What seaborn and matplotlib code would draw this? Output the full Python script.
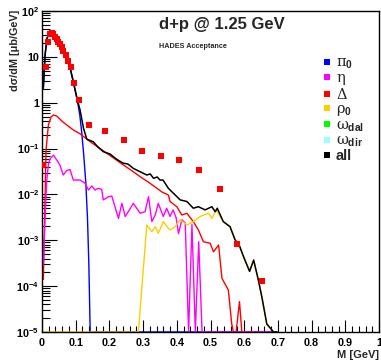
import numpy as np
import pandas as pd
import matplotlib
matplotlib.use("Agg")
import matplotlib.pyplot as plt
import seaborn as sns
from matplotlib.lines import Line2D
from matplotlib.ticker import FixedLocator, MultipleLocator, LogLocator, FuncFormatter, NullFormatter

# ---------------- data ----------------
FLOOR = 1e-5  # zero bins are drawn on the bottom of the axis

# measured points (red squares)
data_m = [0.004, 0.011, 0.017, 0.024, 0.029, 0.034, 0.039, 0.044, 0.048, 0.053, 0.058,
          0.063, 0.070, 0.076, 0.085, 0.095, 0.110, 0.140, 0.188, 0.243, 0.298, 0.353,
          0.408, 0.466, 0.527, 0.578, 0.652]
data_y = [0.044, 6.1, 21.4, 31.5, 33.0, 31.0, 27.5, 24.0, 21.4, 19.0, 16.1,
          13.6, 11.0, 8.3, 5.9, 2.7, 1.12, 0.33, 0.24, 0.15, 0.089, 0.069,
          0.056, 0.034, 0.013, 0.00083, 0.00013]

# all
all_m = [0.004, 0.009, 0.015, 0.022, 0.030, 0.039, 0.048, 0.056, 0.065, 0.074, 0.083,
         0.092, 0.105, 0.113, 0.123, 0.133, 0.152, 0.166, 0.182, 0.202, 0.222, 0.241,
         0.255, 0.271, 0.291, 0.311, 0.321, 0.331, 0.342, 0.350, 0.359, 0.375, 0.390,
         0.410, 0.430, 0.449, 0.464, 0.484, 0.504, 0.514, 0.520, 0.538, 0.558, 0.573,
         0.585, 0.598, 0.616, 0.628, 0.642, 0.653, 0.667, 0.687, 0.697]
all_y = [2.2, 11.0, 26.0, 33.0, 32.0, 27.0, 21.0, 16.4, 12.1, 8.6, 6.0,
         3.1, 1.15, 0.69, 0.28, 0.16, 0.141, 0.108, 0.0855, 0.076, 0.058, 0.048,
         0.046, 0.037, 0.0313, 0.0265, 0.028, 0.0225, 0.024, 0.0206, 0.0206, 0.0136, 0.0106,
         0.0076, 0.0070, 0.0050, 0.0054, 0.0046, 0.0054, 0.0042, 0.0050, 0.00255, 0.00198, 0.00102,
         0.00079, 0.00044, 0.00021, 0.00037, 0.000136, 5.5e-5, 1.5e-5, FLOOR, FLOOR]

# pi0
pi0_m = [0.004, 0.009, 0.015, 0.022, 0.030, 0.039, 0.048, 0.056, 0.065, 0.074, 0.083,
         0.092, 0.105, 0.112, 0.118, 0.124, 0.130, 0.135, 0.139, 0.143, 0.700]
pi0_y = [2.0, 10.5, 25.5, 32.5, 31.5, 26.5, 20.5, 16.0, 11.8, 8.4, 5.9,
         3.0, 1.1, 0.55, 0.22, 0.07, 0.018, 0.003, 0.0003, FLOOR, FLOOR]

# Delta
delta_m = [0.004, 0.009, 0.012, 0.019, 0.027, 0.034, 0.044, 0.062, 0.093, 0.113, 0.143,
           0.166, 0.192, 0.217, 0.241, 0.264, 0.291, 0.315, 0.341, 0.356, 0.375, 0.380,
           0.400, 0.415, 0.430, 0.449, 0.464, 0.479, 0.499, 0.509, 0.524, 0.534, 0.553,
           0.563, 0.568, 0.576, 0.586, 0.593, 0.650]
delta_y = [1.4e-4, 0.0076, 0.093, 0.33, 0.49, 0.54, 0.51, 0.38, 0.254, 0.21, 0.141,
           0.108, 0.079, 0.059, 0.044, 0.034, 0.0244, 0.0187, 0.0136, 0.0113, 0.0097, 0.0070,
           0.0054, 0.00356, 0.00388, 0.00255, 0.00168, 0.00093, 0.00086, 0.00056, 0.00079, 0.000148, 8.2e-5,
           1.5e-5, FLOOR, FLOOR, 4.6e-5, FLOOR, FLOOR]

# eta
eta_m = [0.004, 0.009, 0.014, 0.019, 0.024, 0.034, 0.044, 0.053, 0.063, 0.073, 0.083,
         0.093, 0.113, 0.128, 0.138, 0.148, 0.157, 0.167, 0.177, 0.182, 0.197, 0.207,
         0.227, 0.237, 0.247, 0.256, 0.271, 0.291, 0.306, 0.316, 0.326, 0.336, 0.345,
         0.360, 0.370, 0.380, 0.389, 0.398, 0.405, 0.415, 0.425, 0.435, 0.445, 0.455,
         0.465, 0.475, 0.680]
eta_y = [3e-4, 0.003, 0.02, 0.045, 0.06, 0.072, 0.056, 0.044, 0.0265, 0.033, 0.035,
         0.0206, 0.0206, 0.0175, 0.0125, 0.0153, 0.0125, 0.0136, 0.0129, 0.0076, 0.0089, 0.0092,
         0.0030, 0.0064, 0.0033, 0.0042, 0.0064, 0.0039, 0.0042, 0.0089, 0.00255, 0.00356, 0.0064,
         0.0033, 0.0050, 0.0033, 0.0046, 0.0031, 0.0014, 0.0028, 0.0024, FLOOR, 0.0022, FLOOR,
         0.00093, FLOOR, FLOOR]

# rho0
rho_m = [0.000, 0.286, 0.311, 0.326, 0.336, 0.345, 0.360, 0.375, 0.380, 0.395, 0.410,
         0.430, 0.449, 0.469, 0.494, 0.504, 0.517, 0.534, 0.538, 0.558, 0.573, 0.585,
         0.598, 0.616, 0.628, 0.642, 0.653, 0.667, 0.687, 0.697]
rho_y = [FLOOR, FLOOR, 0.00216, 0.00154, 0.00198, 0.00142, 0.00255, 0.00183, 0.00168, 0.00198, 0.0028,
         0.00216, 0.00255, 0.0033, 0.0039, 0.0030, 0.0046, 0.0028, 0.00255, 0.00198, 0.00102, 0.00079,
         0.00044, 0.00021, 0.00037, 0.000136, 5.5e-5, 1.5e-5, FLOOR, FLOOR]

legend_labels = [r"$\pi_{\mathbf{0}}$", r"$\eta$", r"$\Delta$", r"$\rho_{\mathbf{0}}$",
                 r"$\omega_{\mathbf{dal}}$", r"$\omega_{\mathbf{dir}}$", "all"]
legend_colors = ["#0000ff", "#ff00ff", "#ff0000", "#ffcc00", "#00ff00", "#99ffff", "#000000"]

x_ticks = [0, 0.1, 0.2, 0.3, 0.4, 0.5, 0.6, 0.7, 0.8, 0.9, 1.0]
x_tick_labels = ["0", "0.1", "0.2", "0.3", "0.4", "0.5", "0.6", "0.7", "0.8", "0.9", "1"]

# ---------------- plot ----------------
sns.set_theme(style="white")
plt.rcParams["font.family"] = ["Liberation Sans", "DejaVu Sans"]
plt.rcParams["mathtext.fontset"] = "custom"
plt.rcParams["mathtext.rm"] = "DejaVu Serif"
plt.rcParams["mathtext.it"] = "DejaVu Serif"
plt.rcParams["mathtext.bf"] = "Liberation Sans:bold"

W, H = 381, 363
fig = plt.figure(figsize=(W / 100, H / 100), dpi=100)
fig.patch.set_facecolor("white")
L, R, T, B = 42, 379, 11, 332
ax = fig.add_axes([L / W, 1 - B / H, (R - L) / W, (B - T) / H])
ax.set_facecolor("white")

lw = 1.0
sns.lineplot(x=pi0_m, y=pi0_y, color="#0000ff", lw=lw, ax=ax, sort=False, estimator=None)
sns.lineplot(x=delta_m, y=delta_y, color="#ff0000", lw=lw, ax=ax, sort=False, estimator=None)
sns.lineplot(x=eta_m, y=eta_y, color="#ff00ff", lw=lw, ax=ax, sort=False, estimator=None)
sns.lineplot(x=rho_m, y=rho_y, color="#ffcc00", lw=lw, ax=ax, sort=False, estimator=None)
sns.lineplot(x=all_m, y=all_y, color="#000000", lw=1.1, ax=ax, sort=False, estimator=None)
sns.scatterplot(x=data_m, y=data_y, marker="s", color="#ff0000", s=24, linewidth=0,
                ax=ax, zorder=5, clip_on=True)

ax.set_yscale("log")
ax.set_xlim(0, 1)
ax.set_ylim(1e-5, 100)

for s in ax.spines.values():
    s.set_color("black")
    s.set_linewidth(1.0)
    s.set_visible(True)

ax.xaxis.set_major_locator(FixedLocator(x_ticks))
ax.set_xticklabels(x_tick_labels)
ax.xaxis.set_minor_locator(MultipleLocator(0.02))
ax.yaxis.set_major_locator(LogLocator(base=10, numticks=20))
ax.yaxis.set_minor_locator(LogLocator(base=10, subs=np.arange(2, 10), numticks=20))
ax.yaxis.set_minor_formatter(NullFormatter())


def yfmt(v, pos):
    e = int(round(np.log10(v)))
    if e == 0:
        return "1"
    if e == 1:
        return "10"
    return r"$\mathbf{10^{%d}}$" % e


ax.yaxis.set_major_formatter(FuncFormatter(yfmt))
ax.tick_params(axis="both", which="both", direction="in", colors="black",
               labelsize=7.8, width=0.8, top=False, right=False, bottom=True, left=True)
ax.tick_params(axis="x", which="major", length=9, pad=4)
ax.tick_params(axis="x", which="minor", length=4.5)
ax.tick_params(axis="y", which="major", length=11, pad=2)
ax.tick_params(axis="y", which="minor", length=5.5)
for lab in ax.get_xticklabels() + ax.get_yticklabels():
    lab.set_fontweight("bold")

ax.set_xlabel(None)
ax.set_ylabel(None)
fig.text(R / W, 1 - 355 / H, "M [GeV]", ha="right", va="center",
         fontsize=8, fontweight="bold")
fig.text(15 / W, 1 - 10 / H, "dσ/dM [μb/GeV]", rotation=90, ha="center", va="top",
         fontsize=7.8, fontweight="bold")
fig.text(159 / W, 1 - 25 / H, "d+p @ 1.25 GeV", ha="left", va="center",
         fontsize=12, fontweight="bold")
fig.text(159 / W, 1 - 46 / H, "HADES Acceptance", ha="left", va="center",
         fontsize=5.2, fontweight="bold")

handles = [Line2D([], [], marker="s", linestyle="none", color=c, markersize=4.2,
                  markeredgewidth=0) for c in legend_colors]
leg = ax.legend(handles, legend_labels, loc="upper left",
                bbox_to_anchor=((323 - L) / (R - L), (B - 56) / (B - T)),
                frameon=False, fontsize=10.5, handlelength=0.6, handletextpad=0.3,
                labelspacing=0.0, borderpad=0, borderaxespad=0)
for t in leg.get_texts():
    t.set_fontweight("bold")

fig.savefig("out.png", dpi=100)
